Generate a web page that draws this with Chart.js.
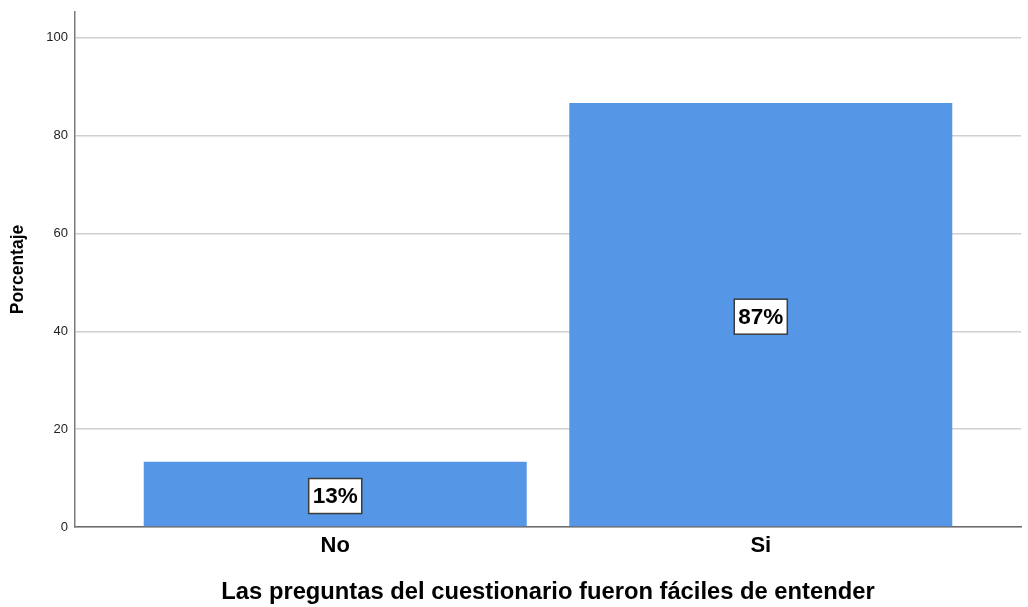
<!DOCTYPE html>
<html>
<head>
<meta charset="utf-8">
<title>Las preguntas del cuestionario fueron fáciles de entender</title>
<script src="https://cdn.jsdelivr.net/npm/chart.js@4.4.1/dist/chart.umd.min.js"></script>
<style>
  html, body { margin: 0; padding: 0; background: #ffffff; }
  #wrap { width: 1028px; height: 607px; position: relative; }
</style>
</head>
<body>
<div id="wrap"><canvas id="chart" width="1028" height="607"></canvas></div>
<script>
// Survey answers: share of respondents (%)
const categories = ['No', 'Si'];
const percentages = [13.33, 86.67];
const yTicks = [0, 20, 40, 60, 80, 100];
const xTitle = 'Las preguntas del cuestionario fueron fáciles de entender';
const yTitle = 'Porcentaje';

const FONT = '"Liberation Sans", Arial, Helvetica, sans-serif';
const BAR_COLOR = '#5596e6';

// Boxed percentage label at the middle of each bar
const valueBoxes = {
  id: 'valueBoxes',
  afterDatasetsDraw(chart) {
    const ctx = chart.ctx;
    const meta = chart.getDatasetMeta(0);
    ctx.save();
    ctx.font = 'bold 22.5px ' + FONT;
    ctx.textAlign = 'center';
    ctx.textBaseline = 'middle';
    meta.data.forEach((bar, i) => {
      const text = Math.round(percentages[i]) + '%';
      const cx = bar.x;
      const cy = (bar.y + bar.base) / 2 + 2;
      const w = ctx.measureText(text).width + 8;
      const h = 35;
      ctx.fillStyle = '#ffffff';
      ctx.fillRect(cx - w / 2, cy - h / 2, w, h);
      ctx.strokeStyle = '#3c3c3c';
      ctx.lineWidth = 1.5;
      ctx.strokeRect(cx - w / 2, cy - h / 2, w, h);
      ctx.fillStyle = '#000000';
      ctx.fillText(text, cx, cy + 1);
    });
    ctx.restore();
  }
};

const whiteBg = {
  id: 'whiteBg',
  beforeDraw(chart) {
    const ctx = chart.ctx;
    ctx.save();
    ctx.fillStyle = '#ffffff';
    ctx.fillRect(0, 0, chart.width, chart.height);
    ctx.restore();
  }
};

new Chart(document.getElementById('chart'), {
  type: 'bar',
  data: {
    datasets: [{
      data: categories.map((c, i) => ({ x: i, y: percentages[i] })),
      backgroundColor: BAR_COLOR,
      borderWidth: 0,
      categoryPercentage: 1,
      barPercentage: 0.9
    }]
  },
  options: {
    responsive: false,
    animation: false,
    events: [],
    layout: { padding: { top: 12, right: 7, left: 0, bottom: 0 } },
    plugins: {
      legend: { display: false },
      tooltip: { enabled: false }
    },
    scales: {
      x: {
        type: 'linear',
        min: -0.6115,
        max: 1.6115,
        offset: false,
        grid: { display: false, offset: false, drawTicks: false },
        border: { display: true, color: '#6a6a6a', width: 1.5 },
        afterBuildTicks(scale) {
          scale.ticks = categories.map((c, i) => ({ value: i }));
        },
        afterFit(scale) {
          scale.height = 80;
          scale.paddingLeft = 0;
          scale.paddingRight = 0;
        },
        ticks: {
          padding: 6,
          color: '#000000',
          font: { family: FONT, size: 22, weight: 'bold' },
          callback: (v) => categories[v] ?? ''
        },
        title: {
          display: true,
          text: xTitle,
          color: '#000000',
          font: { family: FONT, size: 23.75, weight: 'bold' },
          padding: { top: 0, bottom: 0 }
        }
      },
      y: {
        type: 'linear',
        min: 0,
        max: 105.3,
        grid: { color: '#d0d0d0', lineWidth: 1.5, drawTicks: false },
        border: { display: true, color: '#7a7a7a', width: 1.5 },
        afterBuildTicks(scale) {
          scale.ticks = yTicks.map(v => ({ value: v }));
        },
        afterFit(scale) {
          scale.width = 75;
          scale.paddingTop = 0;
          scale.paddingBottom = 0;
        },
        ticks: {
          padding: 7,
          color: '#222222',
          font: { family: FONT, size: 13 }
        },
        title: {
          display: true,
          text: yTitle,
          color: '#000000',
          font: { family: FONT, size: 17.5, weight: 'bold' },
          padding: { top: 8, bottom: 0 }
        }
      }
    }
  },
  plugins: [whiteBg, valueBoxes]
});
</script>
</body>
</html>
